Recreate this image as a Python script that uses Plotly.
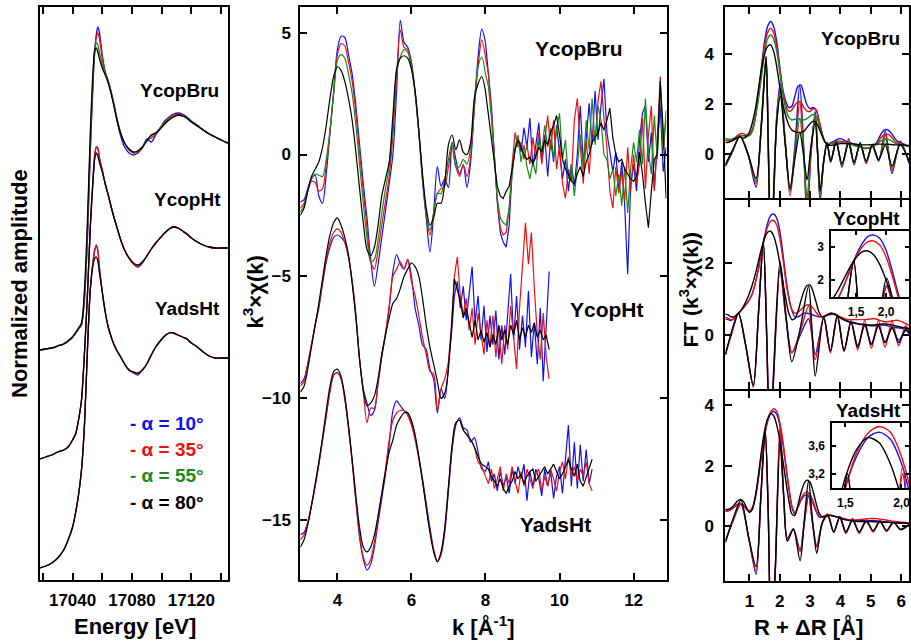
import plotly.graph_objects as go

# ------------------------------------------------------------------ DATA
# --- XANES (left panel), energy grid [eV]
E_XANES = [17018, 17022, 17026, 17030, 17034, 17037, 17040, 17042, 17044, 17046,
           17048, 17050, 17052, 17054, 17055, 17056, 17057, 17058, 17060, 17062,
           17064, 17066, 17068, 17070, 17072, 17075, 17078, 17081, 17084, 17087,
           17090, 17093, 17096, 17099, 17102, 17105, 17108, 17111, 17114, 17117,
           17120, 17124, 17128, 17132, 17136, 17140, 17145]
XAN_BRU_10 = [2.30, 2.31, 2.32, 2.34, 2.36, 2.39, 2.43, 2.47, 2.51, 2.55, 2.80, 3.40, 4.30, 5.03, 5.30, 5.46, 5.53, 5.48, 5.25, 5.08, 4.99, 4.88, 4.74, 4.59, 4.46, 4.33, 4.27, 4.25, 4.27, 4.32, 4.41, 4.38, 4.45, 4.52, 4.59, 4.63, 4.66, 4.67, 4.66, 4.63, 4.59, 4.55, 4.50, 4.46, 4.43, 4.40, 4.36]
XAN_BRU_35 = [2.30, 2.31, 2.32, 2.34, 2.36, 2.39, 2.43, 2.47, 2.51, 2.55, 2.82, 3.45, 4.35, 5.08, 5.30, 5.43, 5.47, 5.42, 5.22, 5.08, 4.99, 4.88, 4.75, 4.61, 4.49, 4.37, 4.30, 4.27, 4.28, 4.32, 4.40, 4.42, 4.46, 4.52, 4.58, 4.62, 4.65, 4.66, 4.65, 4.62, 4.58, 4.54, 4.50, 4.46, 4.43, 4.40, 4.36]
XAN_BRU_55 = [2.30, 2.31, 2.32, 2.34, 2.36, 2.39, 2.43, 2.47, 2.51, 2.56, 2.85, 3.50, 4.42, 5.12, 5.32, 5.37, 5.35, 5.28, 5.16, 5.07, 4.98, 4.87, 4.74, 4.60, 4.49, 4.37, 4.31, 4.28, 4.29, 4.33, 4.40, 4.44, 4.47, 4.52, 4.57, 4.61, 4.64, 4.65, 4.64, 4.62, 4.58, 4.54, 4.50, 4.46, 4.43, 4.40, 4.37]
XAN_BRU_80 = [2.30, 2.31, 2.32, 2.34, 2.36, 2.39, 2.43, 2.47, 2.52, 2.57, 2.90, 3.60, 4.50, 5.15, 5.30, 5.32, 5.28, 5.22, 5.12, 5.05, 4.97, 4.86, 4.73, 4.59, 4.48, 4.37, 4.31, 4.28, 4.29, 4.33, 4.39, 4.45, 4.47, 4.51, 4.56, 4.60, 4.63, 4.65, 4.64, 4.62, 4.58, 4.54, 4.50, 4.46, 4.43, 4.40, 4.37]
XAN_HT_10 = [1.21, 1.23, 1.25, 1.28, 1.30, 1.33, 1.40, 1.46, 1.60, 1.80, 2.27, 2.85, 3.55, 4.05, 4.25, 4.33, 4.32, 4.23, 4.10, 3.96, 3.85, 3.73, 3.62, 3.52, 3.42, 3.30, 3.22, 3.16, 3.13, 3.17, 3.24, 3.31, 3.37, 3.42, 3.47, 3.51, 3.53, 3.52, 3.49, 3.46, 3.42, 3.38, 3.35, 3.33, 3.32, 3.32, 3.32]
XAN_HT_35 = [1.21, 1.23, 1.25, 1.28, 1.30, 1.33, 1.40, 1.46, 1.60, 1.80, 2.27, 2.85, 3.55, 4.08, 4.27, 4.33, 4.31, 4.22, 4.10, 3.96, 3.85, 3.73, 3.62, 3.52, 3.42, 3.30, 3.22, 3.16, 3.14, 3.18, 3.24, 3.31, 3.37, 3.42, 3.47, 3.51, 3.53, 3.52, 3.49, 3.46, 3.42, 3.38, 3.35, 3.33, 3.32, 3.32, 3.32]
XAN_HT_80 = [1.21, 1.23, 1.25, 1.28, 1.30, 1.33, 1.40, 1.46, 1.60, 1.80, 2.27, 2.85, 3.55, 4.05, 4.22, 4.27, 4.24, 4.18, 4.08, 3.96, 3.85, 3.73, 3.62, 3.52, 3.42, 3.30, 3.22, 3.17, 3.15, 3.18, 3.24, 3.31, 3.37, 3.42, 3.47, 3.51, 3.53, 3.52, 3.49, 3.46, 3.42, 3.38, 3.35, 3.33, 3.32, 3.32, 3.32]
XAN_ADS_10 = [0.12, 0.14, 0.17, 0.22, 0.30, 0.40, 0.53, 0.67, 0.85, 1.10, 1.55, 2.30, 2.92, 3.20, 3.30, 3.35, 3.30, 3.14, 2.88, 2.68, 2.53, 2.43, 2.35, 2.29, 2.24, 2.16, 2.10, 2.07, 2.05, 2.10, 2.16, 2.25, 2.33, 2.39, 2.44, 2.47, 2.47, 2.45, 2.43, 2.41, 2.37, 2.33, 2.28, 2.24, 2.22, 2.22, 2.22]
XAN_ADS_35 = [0.12, 0.14, 0.17, 0.22, 0.30, 0.40, 0.53, 0.67, 0.85, 1.10, 1.55, 2.30, 2.92, 3.22, 3.31, 3.34, 3.29, 3.13, 2.88, 2.68, 2.53, 2.43, 2.35, 2.29, 2.24, 2.16, 2.10, 2.08, 2.06, 2.10, 2.16, 2.25, 2.33, 2.39, 2.44, 2.47, 2.47, 2.45, 2.43, 2.41, 2.37, 2.33, 2.28, 2.24, 2.22, 2.22, 2.22]
XAN_ADS_80 = [0.12, 0.14, 0.17, 0.22, 0.30, 0.40, 0.53, 0.67, 0.85, 1.10, 1.55, 2.30, 2.92, 3.17, 3.22, 3.23, 3.19, 3.08, 2.88, 2.68, 2.53, 2.43, 2.35, 2.29, 2.24, 2.16, 2.10, 2.08, 2.07, 2.10, 2.16, 2.25, 2.33, 2.39, 2.44, 2.47, 2.47, 2.45, 2.43, 2.41, 2.37, 2.33, 2.28, 2.24, 2.22, 2.22, 2.22]
E_TICKS = [17040, 17080, 17120]
E_TICK_TEXT = ["17040", "17080", "17120"]

# --- EXAFS k^3 chi(k) (middle panel): sampled on uniform k grids
K_SMOOTH_START, K_SMOOTH_STEP = 3.0, 0.1
K_NOISY_STEP = 0.08
BRU_NOISY_START, HT_NOISY_START, ADS_NOISY_START = 8.0, 7.0, 8.0

BRU10_S = [-1.95, -1.85, -1.4, -1.0, -0.85, -1.7, -2.0, -0.8, 0.9, 2.6,
           4.3, 4.85, 4.8, 4.1, 3.3, 2.0, 0.4, -1.2, -2.6, -4.3,
           -5.4, -4.5, -3.4, -2.3, -1.2, 0.0, 2.6, 5.5, 4.6, 4.4,
           3.8, 2.6, 0.9, -1.1, -2.6, -4.0, -2.4, -0.5, -1.3, -1.0,
           -1.35, 0.5, -0.2, -0.8, -0.45, -1.35, -0.3, 2.0, 4.0, 5.15, 4.6]
BRU35_S = [-2.2, -2.0, -1.5, -1.1, -1.15, -1.5, -1.4, -0.4, 0.9, 2.5,
           4.1, 4.55, 4.45, 3.8, 3.0, 1.7, 0.1, -1.5, -3.0, -4.4,
           -4.7, -3.9, -2.9, -1.9, -0.9, 0.8, 3.2, 5.1, 4.4, 4.3,
           3.6, 2.5, 0.9, -1.0, -2.5, -3.3, -2.4, -1.6, -1.4, -1.3,
           -0.5, 0.3, -0.5, -0.9, -0.4, -0.9, -0.1, 1.9, 3.6, 4.7, 4.0]
BRU55_S = [-2.35, -2.1, -1.5, -1.0, -0.8, -0.85, -0.9, -0.2, 1.0, 2.5,
           3.85, 4.1, 3.95, 3.3, 2.5, 1.2, -0.4, -2.0, -3.4, -4.4,
           -4.3, -3.5, -2.4, -1.4, -0.5, 1.2, 3.4, 4.0, 4.3, 4.2,
           3.6, 2.5, 0.9, -0.9, -2.4, -3.1, -2.4, -1.6, -1.6, -1.0,
           -0.2, 0.5, -0.5, -0.5, -0.2, -0.4, 0.3, 2.2, 3.6, 4.0, 3.3]
BRU80_S = [-2.5, -2.2, -1.5, -0.9, -0.6, -0.3, 0.3, 1.2, 2.3, 3.2,
           3.6, 3.45, 3.0, 2.3, 1.4, 0.1, -1.4, -2.8, -3.9, -4.15,
           -3.8, -2.9, -1.7, -1.0, -0.3, 1.6, 3.5, 3.95, 4.05, 3.95,
           3.5, 2.6, 1.0, -0.8, -2.2, -2.9, -2.6, -2.0, -2.0, -1.2,
           0.4, 0.8, 0.2, 0.6, 0.1, 0.0, 0.5, 2.3, 2.9, 3.2, 2.6]
BRU10_N = [4.6, 3.4, 2.0, 0.0, -2.0, -3.2, -3.6, -3.8, -2.9, -0.7,
           0.2, 0.7, 0.1, 1.1, 0.3, 1.5, -0.5, 0.4, 1.3, -0.3,
           0.8, -0.9, 0.6, -0.3, 1.2, 0.1, -1.0, -0.2, -1.5, -0.4,
           -1.3, 0.0, 2.0, -0.3, 0.6, 2.1, 0.4, 2.6, 0.6, 2.0,
           3.1, 0.9, 0.1, -0.7, 0.1, -1.5, -0.3, -2.1, -4.9, -1.3,
           -0.4, -1.5, 0.6, 1.7, 2.0, -0.3, 0.9, -1.4, 0.4, 2.0, -0.7, 0.3]
BRU35_N = [4.0, 3.3, 1.8, 0.0, -1.9, -3.0, -3.3, -3.2, -2.2, -0.4,
           0.9, 0.3, 0.5, -0.2, 0.4, -0.4, 0.7, -0.2, 0.9, -0.4,
           0.6, 1.6, 0.2, 1.4, -0.6, 0.4, -1.2, -1.8, -0.6, -1.1,
           1.4, 2.3, 0.4, -1.2, 0.6, -0.8, 1.0, 0.5, 2.2, 3.0,
           1.5, 0.3, -1.5, -2.2, -0.5, -1.6, -0.7, -1.9, 0.3, -1.5,
           0.0, -1.2, -0.4, 1.5, -1.4, 0.8, 2.0, -1.5, 0.6, 3.2, 0.2, 1.4]
BRU55_N = [3.3, 2.8, 1.5, -0.2, -1.8, -2.6, -2.8, -2.9, -2.2, -0.8,
           0.3, 0.8, -0.3, 0.4, -0.5, -1.0, -0.3, -0.8, 0.6, 0.1,
           1.2, 0.3, 1.1, -0.2, 1.0, 1.7, -0.2, 0.6, -1.0, -0.4,
           -1.7, -0.5, 0.8, -0.6, 1.4, 0.2, 2.3, 0.4, 2.0, 1.4,
           0.0, -0.2, -1.0, -0.6, -1.7, -0.8, -2.1, -0.5, -2.4, -0.6,
           0.5, -0.3, 1.0, -0.4, 2.3, 0.1, -0.8, 1.6, -0.2, 2.6, 0.2, 1.8]
BRU80_N = [2.6, 1.6, 0.6, -0.2, -1.3, -1.7, -1.8, -1.5, -1.3, -0.6,
           0.2, 0.6, 0.3, 0.0, -0.2, -0.1, -0.4, 0.0, 0.3, 0.1,
           0.6, 0.4, 0.9, 1.2, 1.6, 0.8, -0.2, -0.6, -0.8, -1.1,
           -1.2, -0.8, -0.5, -0.9, -0.3, 0.0, 0.5, 0.7, 0.9, 1.3,
           1.0, 1.4, 1.9, 0.7, 0.0, -0.3, -0.2, -0.6, -0.8, -1.0,
           -1.1, -0.9, 0.1, -0.8, -2.0, -3.0, -1.5, -0.2, 0.0, 3.0, 1.0, -1.8]

HT10_S = [-9.4, -9.2, -8.6, -7.8, -7.0, -6.3, -5.3, -4.4, -3.8, -3.4,
          -3.3, -3.4, -3.6, -4.2, -5.2, -6.6, -8.4, -9.6, -10.2, -10.7,
          -10.5, -9.4, -8.3, -7.4, -6.3, -4.8, -4.1, -4.5, -4.7, -4.3,
          -5.0, -6.3, -7.0, -7.8, -8.0, -8.8, -9.2, -10.6, -9.6, -10.0, -8.6]
HT35_S = [-9.5, -9.3, -8.6, -7.8, -7.0, -6.2, -5.2, -4.3, -3.6, -3.2,
          -3.05, -3.2, -3.6, -4.2, -5.2, -6.6, -8.4, -9.7, -11.0, -10.4,
          -10.4, -9.3, -8.2, -7.3, -6.2, -5.0, -4.7, -4.4, -4.7, -4.3,
          -5.2, -5.8, -6.6, -7.5, -8.2, -8.9, -9.0, -10.5, -9.6, -9.2, -8.5]
HT80_S = [-9.75, -9.5, -8.8, -7.9, -7.0, -6.1, -5.1, -4.1, -3.3, -2.8,
          -2.6, -2.9, -3.4, -4.1, -5.3, -6.7, -8.4, -9.7, -10.3, -10.2,
          -9.9, -9.2, -8.2, -7.4, -6.7, -6.1, -5.9, -5.5, -5.0, -4.7,
          -4.45, -4.6, -5.0, -5.9, -7.0, -7.9, -8.6, -9.3, -10.0, -9.8, -8.8]
HT10_N = [-8.6, -7.4, -5.8, -5.2, -6.3, -5.4, -6.8, -5.6, -4.6, -6.9,
          -5.8, -7.6, -6.2, -8.1, -6.6, -7.8, -6.4, -8.4, -7.0, -8.2,
          -6.4, -4.9, -7.6, -5.8, -8.0, -6.6, -7.9, -5.6, -8.3, -6.9,
          -8.6, -6.3, -9.3, -6.8, -4.8]
HT35_N = [-8.5, -7.0, -5.0, -4.2, -5.8, -6.6, -5.9, -7.2, -6.3, -7.8,
          -6.5, -7.3, -8.2, -6.8, -7.9, -6.6, -8.3, -7.1, -8.6, -7.0,
          -8.0, -6.2, -7.5, -8.8, -6.3, -4.6, -2.8, -4.5, -3.2, -5.5,
          -7.4, -8.4, -6.5, -8.3, -9.2]
HT80_N = [-8.8, -7.2, -5.1, -5.6, -6.0, -6.7, -6.3, -6.9, -7.5, -6.8,
          -7.6, -7.2, -7.7, -7.3, -7.9, -7.4, -7.8, -7.0, -7.6, -7.2,
          -7.8, -7.0, -7.4, -6.8, -7.6, -7.1, -7.5, -7.0, -7.3, -6.9,
          -7.5, -7.2, -7.6, -7.4, -8.0]

ADS10_S = [-15.6, -15.5, -15.1, -14.4, -13.6, -12.7, -11.7, -10.7, -9.7, -9.05,
           -8.95, -9.2, -10.0, -11.2, -12.6, -14.2, -15.7, -16.6, -17.05, -16.8,
           -16.1, -15.1, -14.1, -13.1, -11.9, -10.5, -10.1, -10.3, -10.5, -10.6,
           -11.0, -11.6, -12.4, -13.3, -14.3, -15.3, -16.2, -16.7, -16.4, -15.5,
           -13.8, -12.1, -11.1, -10.8, -11.2, -11.3, -11.8, -11.6, -12.2, -12.9, -13.0]
ADS35_S = [-15.8, -15.6, -15.1, -14.4, -13.6, -12.7, -11.7, -10.7, -9.7, -9.05,
           -8.95, -9.2, -10.0, -11.2, -12.6, -14.2, -15.6, -16.5, -16.85, -16.6,
           -15.9, -14.9, -13.9, -12.9, -11.7, -10.9, -10.6, -10.5, -10.5, -10.7,
           -11.1, -11.7, -12.5, -13.4, -14.4, -15.4, -16.2, -16.7, -16.4, -15.4,
           -13.7, -12.0, -11.0, -10.9, -11.3, -11.5, -11.7, -12.0, -12.6, -12.8, -13.2]
ADS80_S = [-16.1, -15.8, -15.2, -14.4, -13.5, -12.6, -11.6, -10.5, -9.5, -8.9,
           -8.8, -9.1, -9.9, -11.1, -12.5, -14.0, -15.3, -16.1, -16.3, -16.1,
           -15.6, -14.8, -13.9, -13.0, -12.2, -11.7, -11.1, -10.8, -10.6, -10.6,
           -10.9, -11.5, -12.4, -13.4, -14.5, -15.5, -16.3, -16.7, -16.3, -15.3,
           -13.6, -11.9, -11.0, -10.9, -11.3, -11.5, -11.7, -12.0, -12.4, -12.7, -12.8]
ADS10_N = [-13.0, -12.6, -13.4, -13.1, -13.8, -13.0, -13.6, -13.2, -13.9, -12.9,
           -13.5, -12.8, -13.3, -12.7, -14.2, -13.0, -13.6, -12.9, -13.3, -14.0,
           -12.9, -13.6, -13.0, -14.1, -13.2, -12.8, -13.9, -12.6, -11.1, -13.6,
           -11.8, -13.7, -11.9, -13.4, -12.1, -13.5, -12.9]
ADS35_N = [-13.2, -13.5, -12.9, -13.7, -13.3, -12.8, -13.8, -13.1, -13.5, -12.8,
           -13.4, -13.9, -13.0, -13.6, -12.9, -13.3, -13.7, -13.1, -12.9, -13.8,
           -13.2, -13.6, -12.9, -13.3, -13.8, -13.0, -12.6, -13.3, -12.4, -13.2,
           -12.8, -13.4, -12.9, -13.2, -12.6, -13.5, -13.8]
ADS80_N = [-12.8, -12.9, -13.2, -13.4, -13.6, -13.3, -13.7, -13.9, -13.6, -13.4,
           -13.0, -13.3, -13.1, -13.5, -13.2, -13.0, -12.9, -13.4, -13.2, -13.0,
           -12.8, -13.1, -12.9, -12.7, -13.0, -13.3, -13.1, -12.8, -12.5, -12.9,
           -13.2, -12.7, -13.4, -13.6, -13.2, -12.8, -12.5]

# --- Fourier transforms (right panels): magnitude on uniform R grid
R_START, R_STEP = 0.2, 0.1
FT_BRU10_MAG = [0.55, 0.52, 0.5, 0.55, 0.65, 0.72, 0.72, 0.72, 0.75, 0.95,
                1.5, 2.4, 3.5, 4.5, 5.1, 5.3, 5.1, 4.5, 3.5, 2.6,
                2.1, 1.85, 1.9, 2.3, 2.7, 2.75, 2.35, 1.95, 1.8, 1.85,
                1.75, 1.3, 0.8, 0.45, 0.38, 0.45, 0.5, 0.58, 0.6, 0.55,
                0.48, 0.45, 0.4, 0.35, 0.3, 0.25, 0.22, 0.22, 0.25, 0.3,
                0.45, 0.7, 0.9, 0.97, 0.92, 0.78, 0.6, 0.48, 0.42, 0.38, 0.32, 0.3]
FT_BRU35_MAG = [0.55, 0.52, 0.52, 0.6, 0.72, 0.8, 0.8, 0.75, 0.75, 0.95,
                1.5, 2.3, 3.3, 4.3, 4.85, 5.03, 4.85, 4.3, 3.4, 2.5,
                1.95, 1.7, 1.75, 1.95, 2.08, 2.05, 1.85, 1.7, 1.7, 1.8,
                1.75, 1.3, 0.8, 0.45, 0.38, 0.42, 0.45, 0.5, 0.5, 0.48,
                0.45, 0.42, 0.38, 0.32, 0.28, 0.25, 0.2, 0.22, 0.25, 0.3,
                0.4, 0.58, 0.72, 0.78, 0.76, 0.65, 0.5, 0.42, 0.38, 0.35, 0.3, 0.28]
FT_BRU55_MAG = [0.6, 0.58, 0.58, 0.62, 0.68, 0.72, 0.72, 0.7, 0.72, 0.9,
                1.45, 2.2, 3.1, 4.0, 4.6, 4.76, 4.6, 4.1, 3.3, 2.4,
                1.8, 1.45, 1.35, 1.38, 1.4, 1.38, 1.35, 1.4, 1.5, 1.57,
                1.5, 1.15, 0.75, 0.45, 0.38, 0.4, 0.42, 0.45, 0.45, 0.43,
                0.4, 0.38, 0.35, 0.3, 0.27, 0.24, 0.22, 0.22, 0.25, 0.3,
                0.38, 0.48, 0.55, 0.58, 0.56, 0.5, 0.42, 0.38, 0.35, 0.33, 0.3, 0.28]
FT_BRU80_MAG = [0.45, 0.45, 0.5, 0.58, 0.65, 0.65, 0.62, 0.68, 0.85, 1.25,
                1.8, 2.6, 3.4, 4.0, 4.3, 4.36, 4.1, 3.5, 2.7, 2.0,
                1.5, 1.15, 0.95, 0.88, 0.85, 0.85, 0.9, 1.05, 1.2, 1.3,
                1.25, 1.0, 0.7, 0.45, 0.35, 0.33, 0.35, 0.38, 0.4, 0.4,
                0.4, 0.4, 0.4, 0.38, 0.36, 0.35, 0.35, 0.35, 0.36, 0.37,
                0.38, 0.38, 0.38, 0.38, 0.37, 0.36, 0.35, 0.35, 0.35, 0.34, 0.33, 0.32]
FT_HT10_MAG = [0.45, 0.42, 0.4, 0.45, 0.55, 0.65, 0.75, 0.85, 0.98, 1.15,
               1.45, 1.85, 2.3, 2.75, 3.1, 3.32, 3.36, 3.25, 2.9, 2.3,
               1.6, 1.05, 0.68, 0.5, 0.5, 0.55, 0.6, 0.6, 0.58, 0.55,
               0.52, 0.5, 0.5, 0.52, 0.55, 0.57, 0.56, 0.52, 0.47, 0.43,
               0.4, 0.37, 0.35, 0.33, 0.3, 0.28, 0.27, 0.26, 0.25, 0.25,
               0.26, 0.27, 0.27, 0.26, 0.24, 0.22, 0.2, 0.19, 0.18, 0.17, 0.16, 0.15]
FT_HT35_MAG = [0.5, 0.45, 0.42, 0.45, 0.55, 0.65, 0.75, 0.85, 0.98, 1.15,
               1.45, 1.85, 2.3, 2.7, 3.0, 3.16, 3.18, 3.05, 2.7, 2.15,
               1.5, 1.0, 0.7, 0.6, 0.62, 0.7, 0.78, 0.83, 0.82, 0.74,
               0.62, 0.52, 0.5, 0.53, 0.58, 0.6, 0.58, 0.54, 0.5, 0.46,
               0.43, 0.42, 0.42, 0.42, 0.42, 0.42, 0.42, 0.43, 0.44, 0.45,
               0.43, 0.4, 0.37, 0.36, 0.37, 0.39, 0.4, 0.4, 0.37, 0.33, 0.29, 0.26]
FT_HT80_MAG = [0.58, 0.55, 0.5, 0.5, 0.58, 0.65, 0.78, 0.95, 1.15, 1.4,
               1.7, 2.05, 2.4, 2.68, 2.85, 2.88, 2.75, 2.45, 2.0, 1.5,
               1.0, 0.6, 0.42, 0.45, 0.65, 0.95, 1.22, 1.37, 1.38, 1.2,
               0.9, 0.62, 0.5, 0.52, 0.57, 0.6, 0.58, 0.53, 0.47, 0.42,
               0.38, 0.35, 0.33, 0.31, 0.3, 0.29, 0.28, 0.27, 0.27, 0.27,
               0.28, 0.29, 0.3, 0.3, 0.29, 0.27, 0.25, 0.23, 0.21, 0.2, 0.18, 0.17]
FT_ADS10_MAG = [0.5, 0.5, 0.55, 0.62, 0.7, 0.72, 0.68, 0.55, 0.48, 0.6,
                0.95, 1.6, 2.35, 3.0, 3.45, 3.72, 3.8, 3.7, 3.35, 2.75,
                2.0, 1.25, 0.62, 0.4, 0.62, 0.85, 1.0, 1.03, 0.95, 0.75,
                0.48, 0.3, 0.3, 0.35, 0.37, 0.35, 0.32, 0.3, 0.28, 0.25,
                0.22, 0.2, 0.18, 0.17, 0.17, 0.18, 0.18, 0.18, 0.18, 0.18,
                0.17, 0.16, 0.15, 0.14, 0.13, 0.12, 0.12, 0.11, 0.1, 0.1, 0.09, 0.09]
FT_ADS35_MAG = [0.48, 0.5, 0.56, 0.65, 0.72, 0.75, 0.7, 0.57, 0.5, 0.62,
                0.98, 1.6, 2.35, 3.0, 3.5, 3.78, 3.88, 3.8, 3.45, 2.85,
                2.05, 1.3, 0.68, 0.45, 0.65, 0.9, 1.08, 1.13, 1.05, 0.82,
                0.52, 0.32, 0.3, 0.34, 0.36, 0.35, 0.32, 0.3, 0.27, 0.24,
                0.22, 0.21, 0.2, 0.2, 0.21, 0.22, 0.23, 0.24, 0.25, 0.25,
                0.24, 0.23, 0.22, 0.2, 0.18, 0.16, 0.15, 0.14, 0.13, 0.12, 0.11, 0.1]
FT_ADS80_MAG = [0.55, 0.55, 0.6, 0.7, 0.82, 0.88, 0.82, 0.62, 0.45, 0.55,
                1.0, 1.7, 2.5, 3.15, 3.55, 3.72, 3.65, 3.35, 2.85, 2.2,
                1.5, 0.85, 0.4, 0.35, 0.7, 1.1, 1.4, 1.52, 1.45, 1.15,
                0.75, 0.42, 0.3, 0.32, 0.35, 0.35, 0.33, 0.3, 0.26, 0.22,
                0.2, 0.18, 0.17, 0.16, 0.15, 0.15, 0.15, 0.15, 0.15, 0.14,
                0.14, 0.13, 0.13, 0.12, 0.12, 0.11, 0.11, 0.1, 0.1, 0.1, 0.09, 0.09]

# --- Fourier transforms: imaginary parts (read at extrema / crossings)
R_IM_TOP = [0.21, 0.45, 0.69, 0.95, 1.22, 1.40, 1.55, 1.62, 1.71, 1.80, 1.90, 2.02, 2.18, 2.34, 2.50,
            2.66, 2.78, 2.90, 3.03, 3.17, 3.25, 3.33, 3.45, 3.56, 3.68, 3.86, 4.05, 4.27, 4.45, 4.65,
            4.85, 5.05, 5.26, 5.48, 5.70, 5.97, 6.26]
FT_BRU10_IM = [-0.5, 0.1, 0.7, 0.0, -1.35, 1.3, 3.9, 0.5, -5.0, -2.0, 1.5, 2.8, 0.5, -1.5, 0.3, 2.75, 0.5, -2.6, 0.0, 1.7, 0.0, -1.9, -0.3, 0.45, -0.35, 0.55, -0.55, 0.6, -0.45, 0.45, -0.35, 0.35, -0.3, 0.9, -0.8, 0.5, -0.4]
FT_BRU35_IM = [-0.5, 0.1, 0.75, 0.0, -1.2, 1.3, 3.9, 0.5, -4.8, -1.9, 1.4, 2.6, 0.5, -1.7, 0.0, 2.1, 0.3, -2.2, 0.0, 1.6, 0.0, -1.8, -0.3, 0.45, -0.3, 0.5, -0.5, 0.5, -0.4, 0.4, -0.4, 0.35, -0.25, 0.75, -0.7, 0.45, -0.35]
FT_BRU55_IM = [-0.45, 0.12, 0.7, 0.0, -1.1, 1.25, 3.85, 0.5, -4.5, -1.7, 1.3, 2.5, 0.45, -1.5, 0.0, 1.4, 0.2, -1.8, 0.2, 1.55, 0.0, -1.7, -0.3, 0.45, -0.3, 0.45, -0.45, 0.45, -0.4, 0.4, -0.35, 0.3, -0.25, 0.6, -0.6, 0.4, -0.3]
FT_BRU80_IM = [-0.45, 0.15, 0.68, 0.0, -1.0, 1.2, 3.85, 0.5, -4.0, -1.5, 1.2, 2.3, 0.4, -1.4, -0.2, 0.85, 0.0, -1.05, 0.3, 1.25, 0.0, -1.5, -0.3, 0.4, -0.3, 0.45, -0.4, 0.4, -0.35, 0.4, -0.3, 0.35, -0.25, 0.35, -0.5, 0.35, -0.3]
R_IM_MID = [0.21, 0.42, 0.64, 0.88, 1.13, 1.30, 1.46, 1.57, 1.68, 1.80, 2.01, 2.20, 2.40, 2.68, 2.95,
            3.06, 3.17, 3.45, 3.67, 3.90, 4.12, 4.35, 4.57, 4.80, 5.02, 5.25, 5.47, 5.70, 5.92, 6.15, 6.30]
FT_HT10_IM = [-0.55, 0.05, 0.58, -0.3, -1.45, 0.6, 2.55, 0.0, -3.6, -1.2, 1.8, 0.5, -0.5, 0.0, 0.45, 0.0, -0.55, 0.45, -0.45, 0.5, -0.45, 0.35, -0.3, 0.25, -0.25, 0.25, -0.2, 0.18, -0.15, 0.12, 0.0]
FT_HT35_IM = [-0.55, 0.05, 0.6, -0.3, -1.45, 0.6, 2.55, 0.0, -3.5, -1.1, 1.85, 0.5, -0.5, 0.1, 0.8, 0.0, -0.7, 0.5, -0.5, 0.55, -0.45, 0.4, -0.42, 0.4, -0.38, 0.4, -0.35, 0.38, -0.3, 0.25, 0.0]
FT_HT80_IM = [-0.55, 0.1, 0.6, -0.3, -1.4, 0.6, 2.6, 0.0, -3.2, -1.0, 2.05, 0.6, -0.75, 0.2, 1.35, 0.2, -1.15, 0.5, -0.45, 0.55, -0.45, 0.35, -0.35, 0.3, -0.28, 0.25, -0.22, 0.2, -0.22, 0.15, 0.0]
R_IM_BOT = [0.21, 0.45, 0.72, 0.98, 1.22, 1.38, 1.52, 1.62, 1.72, 1.85, 2.01, 2.13, 2.25, 2.45, 2.67,
            2.81, 2.95, 3.08, 3.22, 3.40, 3.58, 3.78, 3.98, 4.18, 4.40, 4.62, 4.85, 5.08, 5.30, 5.52,
            5.75, 5.98, 6.26]
FT_ADS10_IM = [-0.5, 0.15, 0.72, -0.4, -1.6, 1.0, 3.15, 0.5, -4.1, -1.6, 3.2, 1.0, -0.4, -0.1, -0.8, 0.1, 1.0, 0.1, -0.65, 0.1, 0.38, -0.2, 0.3, -0.2, 0.2, -0.2, 0.18, -0.18, 0.15, -0.15, 0.12, -0.1, 0.05]
FT_ADS35_IM = [-0.5, 0.15, 0.75, -0.4, -1.5, 1.0, 3.2, 0.5, -4.2, -1.6, 3.3, 1.0, -0.45, -0.1, -0.85, 0.1, 1.1, 0.1, -0.7, 0.1, 0.4, -0.2, 0.3, -0.25, 0.25, -0.25, 0.22, -0.2, 0.2, -0.18, 0.15, -0.12, 0.05]
FT_ADS80_IM = [-0.55, 0.2, 0.85, -0.4, -1.35, 1.0, 3.2, 0.5, -4.0, -1.5, 2.75, 1.0, -0.5, -0.1, -1.15, 0.2, 1.5, 0.2, -0.9, 0.1, 0.35, -0.2, 0.3, -0.2, 0.2, -0.2, 0.15, -0.15, 0.15, -0.15, 0.12, -0.12, 0.05]

# --- text
LEGEND_LABELS = ["- α = 10°", "- α = 35°", "- α = 55°", "- α = 80°"]
SAMPLES = ["YcopBru", "YcopHt", "YadsHt"]

# ------------------------------------------------------------------ STYLE
W, H = 911, 641
FONT = "Liberation Sans, Arial, Helvetica, sans-serif"
BLUE, RED, GREEN, BLACK = "#1010ee", "#ee1010", "#1a8a1a", "#000000"
COLORS = [BLUE, RED, GREEN, BLACK]


def fx(px):
    return px / W


def fy(py):
    return 1 - py / H


fig = go.Figure()


def line(y, color, xa, ya, x=None, x0=None, dx=None, shape="linear", width=1.3):
    kw = dict(y=y, mode="lines", xaxis=xa, yaxis=ya, showlegend=False, hoverinfo="skip",
              line=dict(color=color, width=width, shape=shape, smoothing=0.8))
    if x is not None:
        kw["x"] = x
    else:
        kw["x0"] = x0
        kw["dx"] = dx
    fig.add_trace(go.Scatter(**kw))


# ---- left panel: XANES
for group in ([XAN_BRU_10, XAN_BRU_35, XAN_BRU_55, XAN_BRU_80],
              [XAN_HT_10, XAN_HT_35, None, XAN_HT_80],
              [XAN_ADS_10, XAN_ADS_35, None, XAN_ADS_80]):
    for data, c in zip(group, COLORS):
        if data is not None:
            line(data, c, "x", "y", x=E_XANES, shape="spline", width=1.3)

# ---- middle panel: k-space
for smooth, noisy, start in (([BRU10_S, BRU35_S, BRU55_S, BRU80_S], [BRU10_N, BRU35_N, BRU55_N, BRU80_N], BRU_NOISY_START),
                             ([HT10_S, HT35_S, None, HT80_S], [HT10_N, HT35_N, None, HT80_N], HT_NOISY_START),
                             ([ADS10_S, ADS35_S, None, ADS80_S], [ADS10_N, ADS35_N, None, ADS80_N], ADS_NOISY_START)):
    for s, n, c in zip(smooth, noisy, COLORS):
        if s is None:
            continue
        line(s, c, "x2", "y2", x0=K_SMOOTH_START, dx=K_SMOOTH_STEP, shape="spline", width=1.2)
        line(n, c, "x2", "y2", x0=start, dx=K_NOISY_STEP, width=1.2)

# ---- right panels: FT magnitude and imaginary part (+ insets)
ft_sets = [
    ("x3", "y3", [FT_BRU10_MAG, FT_BRU35_MAG, FT_BRU55_MAG, FT_BRU80_MAG], R_IM_TOP,
     [FT_BRU10_IM, FT_BRU35_IM, FT_BRU55_IM, FT_BRU80_IM], None),
    ("x4", "y4", [FT_HT10_MAG, FT_HT35_MAG, None, FT_HT80_MAG], R_IM_MID,
     [FT_HT10_IM, FT_HT35_IM, None, FT_HT80_IM], ("x6", "y6")),
    ("x5", "y5", [FT_ADS10_MAG, FT_ADS35_MAG, None, FT_ADS80_MAG], R_IM_BOT,
     [FT_ADS10_IM, FT_ADS35_IM, None, FT_ADS80_IM], ("x7", "y7")),
]
for xa, ya, mags, rim, ims, inset in ft_sets:
    axes = [(xa, ya)] + ([inset] if inset else [])
    for ax_x, ax_y in axes:
        for m, im, c in zip(mags, ims, COLORS):
            if m is None:
                continue
            line(im, c, ax_x, ax_y, x=rim, shape="spline", width=1.4)
            line(m, c, ax_x, ax_y, x0=R_START, dx=R_STEP, shape="spline", width=1.4)

# ------------------------------------------------------------------ AXES
tickfont = dict(family=FONT, size=17, color="black", weight="bold")
base = dict(showline=True, linecolor="black", linewidth=2, mirror="allticks", ticks="inside",
            ticklen=7, tickwidth=2, tickcolor="black", showgrid=False, zeroline=False,
            tickfont=tickfont, fixedrange=True)

LEFT_X = [fx(40), fx(229)]
MID_X = [fx(301), fx(668)]
RIGHT_X = [fx(727), 1.0]
FULL_Y = [fy(580), fy(7)]

layout = dict(
    width=W, height=H, margin=dict(l=0, r=0, t=0, b=0),
    paper_bgcolor="white", plot_bgcolor="white", showlegend=False,
    xaxis=dict(base, domain=LEFT_X, range=[17018, 17145], anchor="y",
               tickvals=E_TICKS, ticktext=E_TICK_TEXT, ticklabelstandoff=4,
               minor=dict(ticks="inside", tick0=17020, dtick=20, ticklen=7, tickwidth=2,
                          tickcolor="black", showgrid=False)),
    yaxis=dict(base, domain=FULL_Y, range=[0, 5.73], anchor="x", ticks="", showticklabels=False),
    xaxis2=dict(base, domain=MID_X, range=[3.0, 12.89], anchor="y2", tickvals=[4, 6, 8, 10, 12],
                ticklabelstandoff=4),
    yaxis2=dict(base, domain=FULL_Y, range=[-17.45, 6.05], anchor="x2", tickvals=[-15, -10, -5, 0, 5],
                ticklabelstandoff=4),
    xaxis3=dict(base, domain=RIGHT_X, range=[0.21, 6.26], anchor="y3", tickvals=[1, 2, 3, 4, 5, 6],
                showticklabels=False),
    yaxis3=dict(base, domain=[fy(198), fy(7)], range=[-1.78, 5.88], anchor="x3", tickvals=[0, 2, 4],
                ticklabelstandoff=6),
    xaxis4=dict(base, domain=RIGHT_X, range=[0.21, 6.26], anchor="y4", tickvals=[1, 2, 3, 4, 5, 6],
                showticklabels=False),
    yaxis4=dict(base, domain=[fy(389), fy(200)], range=[-1.51, 3.75], anchor="x4", tickvals=[0, 2],
                ticklabelstandoff=6),
    xaxis5=dict(base, domain=RIGHT_X, range=[0.21, 6.26], anchor="y5", tickvals=[1, 2, 3, 4, 5, 6],
                ticklabelstandoff=4),
    yaxis5=dict(base, domain=[fy(581), fy(391)], range=[-1.82, 4.47], anchor="x5", tickvals=[0, 2, 4],
                ticklabelstandoff=6),
)
inset_font = dict(family=FONT, size=12, color="black", weight="bold")
inset = dict(base, linewidth=1.5, ticklen=4, tickwidth=1.5, tickfont=inset_font)
layout.update(
    xaxis6=dict(inset, domain=[fx(833), 1.0], range=[1.083, 2.383], anchor="y6",
                tickvals=[1.5, 2.0], ticktext=["1,5", "2,0"], ticklabelstandoff=3),
    yaxis6=dict(inset, domain=[fy(297), fy(231)], range=[1.485, 3.485], anchor="x6",
                tickvals=[2, 3], ticklabelstandoff=3),
    xaxis7=dict(inset, domain=[fx(834), 1.0], range=[1.383, 2.067], anchor="y7",
                tickvals=[1.5, 2.0], ticktext=["1,5", "2,0"], ticklabelstandoff=3),
    yaxis7=dict(inset, domain=[fy(488), fy(423)], range=[3.0, 3.93], anchor="x7",
                tickvals=[3.2, 3.6], ticktext=["3,2", "3,6"], ticklabelstandoff=3),
)
fig.update_layout(**layout)

# ------------------------------------------------------------------ TEXT
ann = []


def text(t, px, py, size=19, color="black", angle=0, xanchor="center"):
    ann.append(dict(text="<b>" + t + "</b>", x=fx(px), y=fy(py), xref="paper", yref="paper",
                    showarrow=False, xanchor=xanchor, yanchor="middle", textangle=angle,
                    font=dict(family=FONT, size=size, color=color)))


# sample labels
for t, (px, py) in zip(SAMPLES, [(180, 90), (188, 200), (188, 308)]):
    text(t, px, py, 19)
for t, (px, py) in zip(SAMPLES, [(580, 48), (608, 310), (557, 524)]):
    text(t, px, py, 21)
for t, (px, py) in zip(SAMPLES, [(862, 38), (868, 218), (870, 410)]):
    text(t, px, py, 19)
# legend
for t, c, py in zip(LEGEND_LABELS, COLORS, [423, 449, 475, 502]):
    text(t, 128, py, 19, color=c, xanchor="left")
# axis titles
text("Normalized amplitude", 19, 283, 22, angle=-90)
text("Energy [eV]", 135, 626, 22)
text("k<sup>3</sup>×χ(k)", 254, 292, 22, angle=-90)
text("k [Å<sup>-1</sup>]", 485, 626, 22)
text("FT (k<sup>3</sup>×χ(k))", 691, 290, 21, angle=-90)
text("R + ΔR [Å]", 810, 627, 22)

fig.update_layout(annotations=ann)
fig.write_html("out.html")
